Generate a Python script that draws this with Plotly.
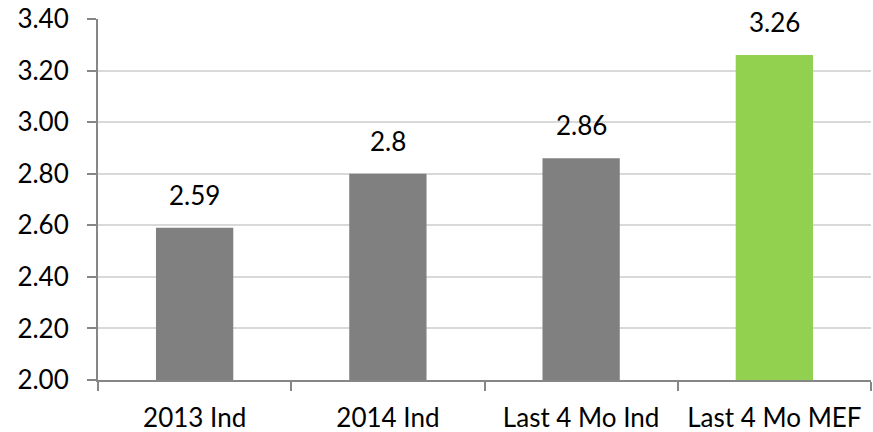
import plotly.graph_objects as go

categories = ["2013 Ind", "2014 Ind", "Last 4 Mo Ind", "Last 4 Mo MEF"]
values = [2.59, 2.8, 2.86, 3.26]
value_labels = ["2.59", "2.8", "2.86", "3.26"]
bar_colors = ["#808080", "#808080", "#808080", "#92d050"]
y_ticks = [2.0, 2.2, 2.4, 2.6, 2.8, 3.0, 3.2, 3.4]
y_tick_text = ["2.00", "2.20", "2.40", "2.60", "2.80", "3.00", "3.20", "3.40"]

FONT = "Lato"
FONT_SIZE = 26

fig = go.Figure(
    go.Bar(
        x=categories,
        y=values,
        marker=dict(color=bar_colors, line=dict(width=0)),
        width=0.4,
        hoverinfo="skip",
    )
)

# value labels floating above each bar
for cat, v, txt in zip(categories, values, value_labels):
    fig.add_annotation(
        x=cat, y=v, text=txt, showarrow=False,
        yanchor="bottom", yshift=15,
        font=dict(family=FONT, size=FONT_SIZE, color="#000000"),
    )

fig.update_layout(
    width=873, height=432,
    margin=dict(l=98, r=2, t=19, b=52),
    paper_bgcolor="white", plot_bgcolor="white",
    showlegend=False,
)
fig.update_xaxes(
    type="category",
    automargin=False,
    showline=True, linecolor="#868686", linewidth=2,
    ticks="outside", tickson="boundaries", ticklen=9, tickwidth=2, tickcolor="#868686",
    tickfont=dict(family=FONT, size=FONT_SIZE, color="#000000"),
    ticklabelstandoff=14,
    showgrid=False,
)
fig.update_yaxes(
    range=[2.0, 3.4],
    automargin=False,
    tickvals=y_ticks, ticktext=y_tick_text,
    showline=True, linecolor="#868686", linewidth=2,
    ticks="outside", ticklen=9, tickwidth=2, tickcolor="#868686",
    tickfont=dict(family=FONT, size=FONT_SIZE, color="#000000"),
    ticklabelstandoff=13,
    showgrid=True, gridcolor="#d9d9d9", gridwidth=2,
    zeroline=False,
)

fig.write_html("out.html")
